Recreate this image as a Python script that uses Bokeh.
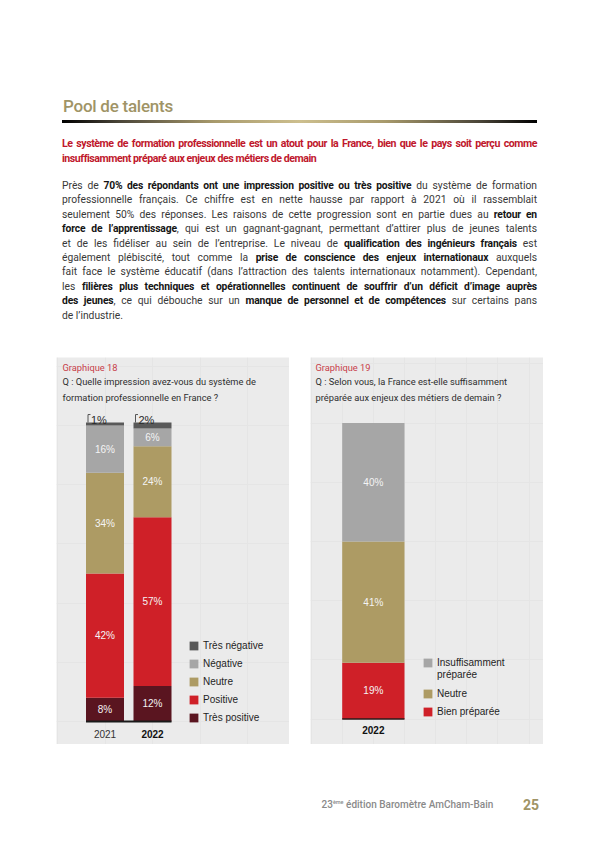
import numpy as np
from bokeh.plotting import figure
from bokeh.models import ColumnDataSource, Legend, LegendItem, Label, Range1d, Div, Spacer
from bokeh.layouts import row, column
from bokeh.embed import file_html
from bokeh.resources import INLINE
from bokeh.core.properties import value

# ---------------- Graphique 18 data ----------------
years_18 = ["2021", "2022"]
tres_positive_18 = [8, 12]
positive_18 = [42, 57]
neutre_18 = [34, 24]
negative_18 = [16, 6]
tres_negative_18 = [1, 2]
names_18 = ["Très positive", "Positive", "Neutre", "Négative", "Très négative"]  # bottom -> top

# ---------------- Graphique 19 data ----------------
years_19 = ["2022"]
bien_preparee_19 = [19]
neutre_19 = [41]
insuffisamment_19 = [40]
names_19 = ["Bien préparée", "Neutre", "Insuffisamment préparée"]  # bottom -> top

# ---------------- styles ----------------
C_TN = "#595959"
C_NG = "#a6a6a6"
C_NE = "#ad9b64"
C_PO = "#cf2028"
C_TP = "#5a1520"
PANEL_BG = "#ebebeb"
PX_PER_PCT = 2.96
PW, PH = 233, 387
CHART_FONT = "Liberation Sans"
PAGE_FONT = "Roboto"
OFF = 8  # page offset of the layout


def base_fig(c0_px, unit_px, base_px):
    p = figure(width=PW, height=PH, output_backend="svg", toolbar_location=None, title=None,
               x_range=Range1d(-c0_px / unit_px, (PW - c0_px) / unit_px),
               y_range=Range1d(-base_px / PX_PER_PCT, (PH - base_px) / PX_PER_PCT),
               x_axis_location=None, y_axis_location=None, min_border=0,
               background_fill_color=PANEL_BG, border_fill_color=PANEL_BG,
               outline_line_color=None)
    return p


def header(p, num, q1, q2, x):
    p.add_layout(Label(x=x, y=377, x_units="screen", y_units="screen", text=f"Graphique {num}",
                       text_font=PAGE_FONT, text_font_size="9.3px", text_color="#c8404a",
                       text_baseline="middle"))
    p.add_layout(Label(x=x, y=363.5, x_units="screen", y_units="screen", text=q1,
                       text_font=PAGE_FONT, text_font_size="9.3px", text_color="#2e2e2e",
                       text_baseline="middle"))
    p.add_layout(Label(x=x, y=346.7, x_units="screen", y_units="screen", text=q2,
                       text_font=PAGE_FONT, text_font_size="9.3px", text_color="#2e2e2e",
                       text_baseline="middle"))


def inside_labels(p, xs, series, n_labelled):
    arr = np.array(series, dtype=float)
    cum = np.cumsum(arr, axis=0)
    mids = cum - arr / 2
    lx, ly, lt = [], [], []
    for k in range(n_labelled):
        for j in range(arr.shape[1]):
            lx.append(xs[j]); ly.append(mids[k][j]); lt.append(f"{series[k][j]}%")
    p.text(x=lx, y=ly, text=lt, text_align="center", text_baseline="middle",
           text_color="#f4f4f4", text_font=value(CHART_FONT), text_font_size="10px")
    return cum


def legend(p, items, loc, spacing):
    lg = Legend(items=items, location=loc, orientation="vertical", padding=0, margin=0,
                spacing=spacing, glyph_width=11, glyph_height=11, label_height=11,
                label_standoff=4, label_text_font=CHART_FONT, label_text_font_size="10px",
                label_text_color="#1e1e1e", border_line_color=None, background_fill_alpha=0)
    p.add_layout(lg)


# ================= Graphique 18 =================
unit18 = 47.5
w18 = 38 / unit18
p18 = base_fig(48.5, unit18, 23)
x18 = list(range(len(years_18)))
src18 = ColumnDataSource(dict(x=x18, tp=tres_positive_18, po=positive_18, ne=neutre_18,
                              ng=negative_18, tn=tres_negative_18))
rs18 = p18.vbar_stack(["tp", "po", "ne", "ng", "tn"], x="x", width=w18, source=src18,
                      fill_color=[C_TP, C_PO, C_NE, C_NG, C_TN], line_color=None)
series18 = [tres_positive_18, positive_18, neutre_18, negative_18, tres_negative_18]
cum18 = inside_labels(p18, x18, series18, 4)
tops18 = list(cum18[-1])
lefts18 = [x - w18 / 2 for x in x18]
p18.text(x=lefts18, y=tops18, text=[f"{v}%" for v in tres_negative_18], x_offset=5, y_offset=-2.5,
         text_align="left", text_baseline="alphabetic", text_color="#2a2a2a",
         text_font=value(CHART_FONT), text_font_size="11px")
p18.multi_line(xs=[[b + 2.0 / unit18, b + 2.0 / unit18, b + 4.5 / unit18] for b in lefts18],
               ys=[[t, t + 8 / PX_PER_PCT, t + 8 / PX_PER_PCT] for t in tops18],
               line_color="#555555", line_width=1)
p18.segment(x0=[lefts18[0]], y0=[0], x1=[lefts18[-1] + w18], y1=[0], line_color="#1a1a1a", line_width=2)
p18.text(x=[x18[0]], y=[0], text=[years_18[0]], y_offset=12, text_align="center", text_baseline="middle",
         text_color="#333333", text_font=value(CHART_FONT), text_font_size="10px")
p18.text(x=[x18[1]], y=[0], text=[years_18[1]], y_offset=12, text_align="center", text_baseline="middle",
         text_color="#111111", text_font=value(CHART_FONT), text_font_size="10px", text_font_style="bold")
legend(p18, [LegendItem(label=names_18[k], renderers=[rs18[k]]) for k in range(4, -1, -1)], (132, 21), 7)
header(p18, 18, "Q : Quelle impression avez-vous du système de",
       "formation professionnelle en France ?", 6)

# ================= Graphique 19 =================
unit19 = 62.3
w19 = 1.0
p19 = base_fig(62.85, unit19, 25.5)
x19 = list(range(len(years_19)))
src19 = ColumnDataSource(dict(x=x19, bp=bien_preparee_19, ne=neutre_19, ins=insuffisamment_19))
rs19 = p19.vbar_stack(["bp", "ne", "ins"], x="x", width=w19, source=src19,
                      fill_color=[C_PO, C_NE, C_NG], line_color=None)
series19 = [bien_preparee_19, neutre_19, insuffisamment_19]
inside_labels(p19, x19, series19, 3)
lefts19 = [x - w19 / 2 for x in x19]
p19.segment(x0=[lefts19[0]], y0=[0], x1=[lefts19[-1] + w19], y1=[0], line_color="#2a1a1a", line_width=1.5)
p19.text(x=[x19[0]], y=[0], text=[years_19[0]], y_offset=11, text_align="center", text_baseline="middle",
         text_color="#111111", text_font=value(CHART_FONT), text_font_size="10px", text_font_style="bold")
blank = p19.vbar(x=[], top=[], width=1, fill_alpha=0, line_alpha=0)
ins_words = names_19[2].split(" ")
legend(p19, [LegendItem(label=ins_words[0], renderers=[rs19[2]]),
             LegendItem(label=ins_words[1], renderers=[blank])], (112, 64), 1)
legend(p19, [LegendItem(label=names_19[1], renderers=[rs19[1]]),
             LegendItem(label=names_19[0], renderers=[rs19[0]])], (112, 27), 7)
header(p19, 19, "Q : Selon vous, la France est-elle suffisamment",
       "préparée aux enjeux des métiers de demain ?", 5)

# ================= page text =================
RED = "#c0172c"
title_txt = "Pool de talents"
sub_lines = ["Le système de formation professionnelle est un atout pour la France, bien que le pays soit perçu comme",
             "insuffisamment préparé aux enjeux des métiers de demain"]
body_lines = [
    [("n", "Près de "), ("b", "70% des répondants ont une impression positive ou très positive"), ("n", " du système de formation")],
    [("n", "professionnelle français. Ce chiffre est en nette hausse par rapport à 2021 où il rassemblait")],
    [("n", "seulement 50% des réponses. Les raisons de cette progression sont en partie dues au "), ("b", "retour en")],
    [("b", "force de l’apprentissage"), ("n", ", qui est un gagnant-gagnant, permettant d’attirer plus de jeunes talents")],
    [("n", "et de les fidéliser au sein de l’entreprise. Le niveau de "), ("b", "qualification des ingénieurs français"), ("n", " est")],
    [("n", "également plébiscité, tout comme la "), ("b", "prise de conscience des enjeux internationaux"), ("n", " auxquels")],
    [("n", "fait face le système éducatif (dans l’attraction des talents internationaux notamment). Cependant,")],
    [("n", "les "), ("b", "filières plus techniques et opérationnelles continuent de souffrir d’un déficit d’image auprès")],
    [("b", "des jeunes"), ("n", ", ce qui débouche sur un "), ("b", "manque de personnel et de compétences"), ("n", " sur certains pans")],
    [("n", "de l’industrie.")],
]

LEFT = 54 + OFF


def line_div(inner, top, lh, extra, justify=True):
    j = "text-align:justify;text-align-last:justify;" if justify else "text-align:left;"
    return (f'<div style="position:absolute;left:{LEFT}px;width:475px;top:{top}px;height:{lh}px;'
            f'line-height:{lh}px;white-space:nowrap;{j}{extra}">{inner}</div>')


parts = []
parts.append(f'<div style="position:absolute;left:{55 + OFF}px;top:{88 + OFF}px;height:20px;line-height:20px;'
             f'white-space:nowrap;font-size:17px;font-weight:500;letter-spacing:-0.25px;color:#a09466;">{title_txt}</div>')
parts.append(f'<div style="position:absolute;left:{LEFT}px;top:{112 + OFF}px;width:475px;height:3px;'
             'background:linear-gradient(to right,#000000 0%,#4a4538 12%,#a89a6c 32%,#cdbf8e 50%,'
             '#a89a6c 68%,#4a4538 88%,#000000 100%);"></div>')
sub_extra = f"font-size:10.6px;font-weight:700;letter-spacing:-0.45px;color:{RED};"
parts.append(line_div(sub_lines[0], 129 + OFF, 14, sub_extra, True))
parts.append(line_div(sub_lines[1], 144.3 + OFF, 14, sub_extra, False))
for i, ln in enumerate(body_lines):
    inner = "".join(f'<b style="font-weight:700;color:#151515;letter-spacing:-0.15px;">{t}</b>' if k == "b" else t
                    for k, t in ln)
    parts.append(line_div(inner, round(170.9 + OFF + 14.4 * i, 1), 14,
                          "font-size:10.3px;color:#383838;", i < len(body_lines) - 1))

HW = 584 + OFF
HH = 349 + OFF
header_html = (f'<div style="position:relative;width:{HW}px;height:{HH}px;font-family:{PAGE_FONT},sans-serif;">'
               + "".join(parts) + "</div>")
header_div = Div(text=header_html, width=HW, height=HH, margin=(0, 0, 0, 0))

footer_html = (f'<div style="position:relative;width:{HW}px;height:96px;font-family:{PAGE_FONT},sans-serif;">'
               f'<div style="position:absolute;left:{313.5 + OFF}px;top:53px;height:16px;line-height:16px;white-space:nowrap;'
               'font-size:10px;font-weight:500;color:#8a8a8a;">23<sup style="font-size:5.5px;line-height:0;">ème</sup>'
               ' édition Baromètre AmCham-Bain</div>'
               f'<div style="position:absolute;left:{515 + OFF}px;top:52px;height:18px;line-height:18px;white-space:nowrap;'
               'font-size:14px;font-weight:700;color:#a09466;">25</div></div>')
footer_div = Div(text=footer_html, width=HW, height=96, margin=(0, 0, 0, 0))

charts = row(Spacer(width=48 + OFF, height=PH), p18, Spacer(width=21, height=PH), p19,
             Spacer(width=49, height=PH))
page = column(header_div, charts, footer_div)

open("out.html", "w").write(file_html(page, INLINE))
